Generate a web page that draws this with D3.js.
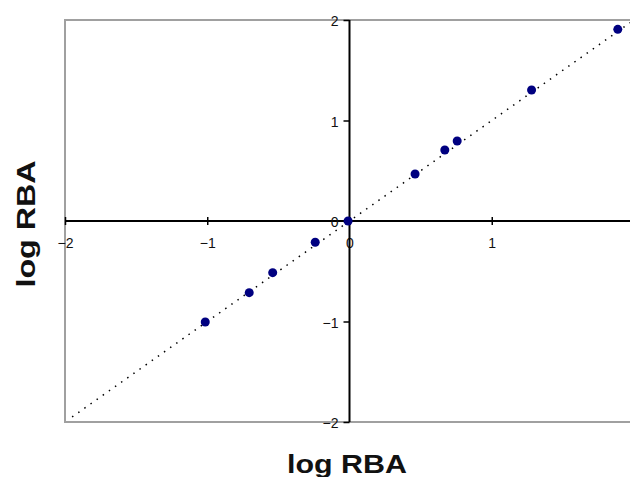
<!DOCTYPE html>
<html><head><meta charset="utf-8">
<script src="https://cdnjs.cloudflare.com/ajax/libs/d3/7.8.5/d3.min.js"></script>
<style>body{margin:0;background:#fff}svg{display:block}</style>
</head><body>
<script>
const xVals = [-1.014, -0.705, -0.54, -0.241, -0.01, 0.461, 0.67, 0.757, 1.28, 1.886];
const yVals = [-1.005, -0.713, -0.514, -0.212, 0.0, 0.468, 0.706, 0.796, 1.303, 1.907];
const xTicks = [-2, -1, 0, 1];
const yTicks = [-2, -1, 0, 1, 2];
const fitLine = [[-1.95, -1.95], [2, 2]];

const W = 630, H = 477;
const FONT = "Arial, 'Liberation Sans', sans-serif";
const svg = d3.select("body").append("svg").attr("width", W).attr("height", H);
const x = d3.scaleLinear().domain([-2, 2]).range([65, 634]);
const y = d3.scaleLinear().domain([-2, 2]).range([422, 20]);

// frame
svg.append("path").attr("d", `M${x(2)+2},${y(2)}H${x(-2)}V${y(-2)}H${x(2)+2}`)
  .attr("fill", "none").attr("stroke", "#a0a0a0").attr("stroke-width", 2);

// x axis at y=0
const gx = svg.append("g").attr("transform", `translate(0,${y(0)})`)
  .call(d3.axisBottom(x).tickValues(xTicks).tickSize(0).tickFormat(d3.format("d")));
gx.select(".domain").remove();
gx.append("line").attr("x1", x(-2)).attr("x2", W).attr("stroke", "#000").attr("stroke-width", 2);
gx.selectAll(".tick").append("line").attr("y1", -4).attr("y2", 4).attr("stroke", "#000").attr("stroke-width", 1.5);
gx.selectAll(".tick text").attr("y", 22).attr("dy", "0.35em")
  .attr("font-family", FONT).attr("font-size", 14).attr("fill", "#111");

// y axis at x=0
const gy = svg.append("g").attr("transform", `translate(${x(0)},0)`)
  .call(d3.axisLeft(y).tickValues(yTicks).tickSize(0).tickFormat(d3.format("d")));
gy.select(".domain").remove();
gy.append("line").attr("y1", y(2)).attr("y2", y(-2)).attr("stroke", "#000").attr("stroke-width", 2);
gy.selectAll(".tick").append("line").attr("x1", -6).attr("x2", 0).attr("stroke", "#000").attr("stroke-width", 1.5);
gy.selectAll(".tick text").attr("x", -11).attr("dy", "0.4em")
  .attr("font-family", FONT).attr("font-size", 14).attr("fill", "#111");

// dotted trend line
svg.append("line")
  .attr("x1", x(fitLine[0][0])).attr("y1", y(fitLine[0][1]))
  .attr("x2", x(fitLine[1][0])).attr("y2", y(fitLine[1][1]))
  .attr("stroke", "#000").attr("stroke-width", 1.5).attr("stroke-dasharray", "1.5,6");

// points
svg.selectAll("circle.pt").data(xVals.map((v, i) => [v, yVals[i]])).enter()
  .append("circle").attr("class", "pt")
  .attr("cx", d => x(d[0])).attr("cy", d => y(d[1])).attr("r", 4.5).attr("fill", "#000080");

// titles
svg.append("text").attr("x", 347).attr("y", 473).attr("text-anchor", "middle")
  .attr("font-family", FONT).attr("font-weight", "bold").attr("font-size", 25)
  .attr("textLength", 120).attr("lengthAdjust", "spacingAndGlyphs")
  .attr("fill", "#111").text("log RBA");
svg.append("text").attr("transform", "translate(35,224) rotate(-90)").attr("text-anchor", "middle")
  .attr("font-family", FONT).attr("font-weight", "bold").attr("font-size", 26)
  .attr("textLength", 127).attr("lengthAdjust", "spacingAndGlyphs")
  .attr("fill", "#111").text("log RBA");
</script>
</body></html>
